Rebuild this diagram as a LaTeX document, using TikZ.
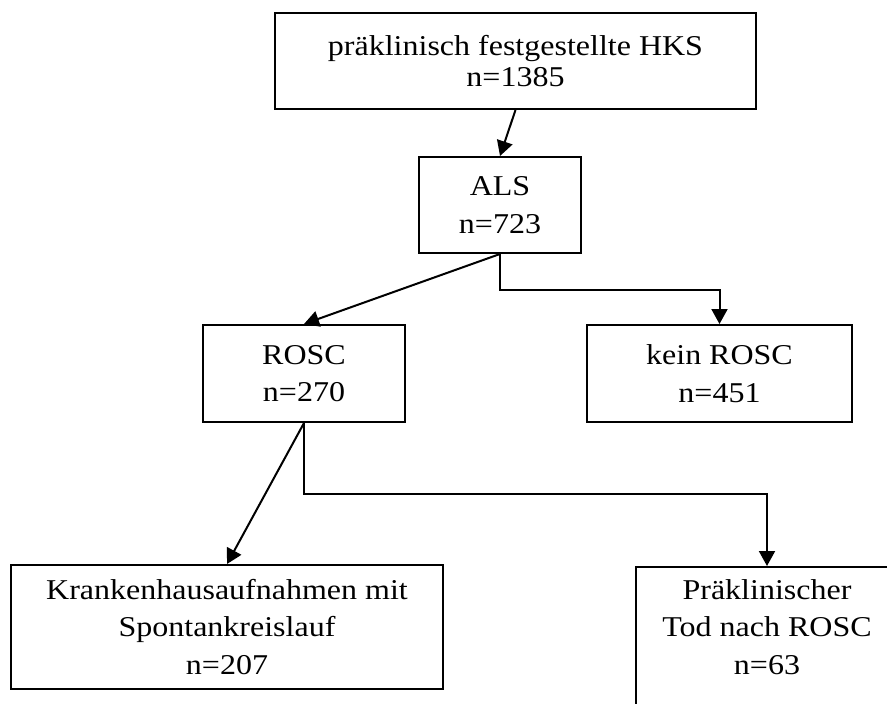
\documentclass[tikz,border=0pt]{standalone}
\usepackage{fontspec}
\setmainfont{Liberation Serif}[FakeStretch=1.115]
\usetikzlibrary{arrows.meta}
\begin{document}
\begin{tikzpicture}[x=1pt,y=-1pt,
  box/.style={draw, line width=2pt, rectangle, inner sep=0pt, align=center,
    font=\fontsize{28.7pt}{37.5pt}\selectfont},
  arr/.style={line width=2pt, -{Triangle[length=15pt,width=16pt]}}]
\clip (0,0) rectangle (887,704);
\useasboundingbox (0,0) rectangle (887,704);
\node[box, minimum width=481pt, minimum height=96pt,
  font=\fontsize{28.7pt}{31.3pt}\selectfont] (top) at (515.5,61)
  {präklinisch festgestellte HKS\\n=1385};
\node[box, minimum width=162pt, minimum height=96pt] (als) at (500,205) {ALS\\n=723};
\node[box, minimum width=202pt, minimum height=97pt] (rosc) at (304,373.5) {ROSC\\n=270};
\node[box, minimum width=265pt, minimum height=97pt] (kein) at (719.5,373.5) {kein ROSC\\n=451};
\node[box, minimum width=432pt, minimum height=124pt] (kh) at (227,627)
  {Krankenhausaufnahmen mit\\Spontankreislauf\\n=207};
\node[draw, line width=2pt, rectangle, inner sep=0pt, minimum width=264pt,
  minimum height=170pt, anchor=north west] (pbox) at (635,566) {};
\node[align=center, inner sep=0pt, font=\fontsize{28.7pt}{37.5pt}\selectfont] (ptext) at (767,627)
  {Präklinischer\\Tod nach ROSC\\n=63};
\coordinate (pin) at (767,566);
\draw[arr] (top.south) -- (als.north);
\draw[arr] (als.south) -- (rosc.north);
\draw[arr] (als.south) -- ++(0,36) -| (kein.north);
\draw[arr] (rosc.south) -- (kh.north);
\draw[arr] (rosc.south) -- ++(0,71) -| (pin);
\end{tikzpicture}
\end{document}
